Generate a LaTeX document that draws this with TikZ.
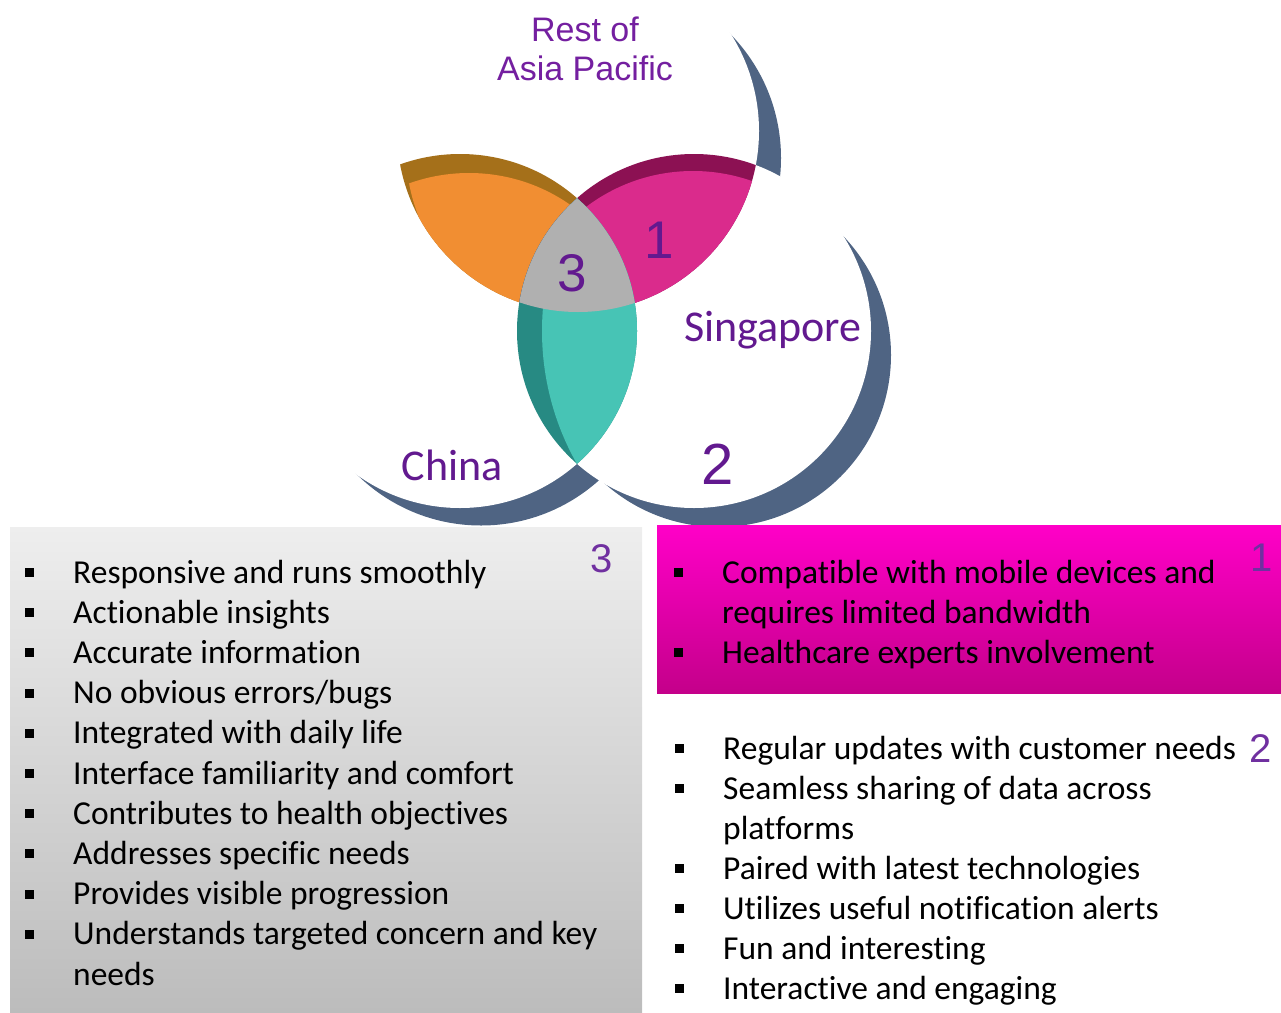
\documentclass[tikz,border=0pt]{standalone}
\usepackage{fontspec}
\setmainfont{Carlito}[Ligatures={NoCommon,NoContextual}]
\newfontfamily\arialfont{Liberation Sans}
\usepackage{xcolor}
\definecolor{shadowblue}{HTML}{4F6483}
\definecolor{orgdark}{HTML}{A5701A}
\definecolor{orglight}{HTML}{F18E32}
\definecolor{magdark}{HTML}{8C1153}
\definecolor{maglight}{HTML}{DA2B8C}
\definecolor{tealdark}{HTML}{278A83}
\definecolor{teallight}{HTML}{47C4B5}
\definecolor{coregray}{HTML}{B0B0B0}
\definecolor{venpurple}{HTML}{62198F}
\definecolor{restpurple}{HTML}{741FA0}
\definecolor{numpurple}{HTML}{7030A0}
\definecolor{graytop}{HTML}{EEEEEE}
\definecolor{graybot}{HTML}{BCBCBC}
\definecolor{pinktop}{HTML}{FF00C8}
\definecolor{pinkbot}{HTML}{C4008A}
\usepackage{tikz}

% the three discs of the diagram
\def\toppath{(578,131) circle[radius=181pt]}
\def\chinapath{(460,331) circle[radius=177pt]}
\def\singpath{(694,331) circle[radius=177pt]}
\newcommand{\bul}{\llap{\raisebox{6pt}{\rule{9pt}{9pt}}\hspace{39pt}}}

\begin{document}
\begin{tikzpicture}[x=1pt, y=-1pt,
  item/.style={inner sep=0pt, anchor=base west, font=\fontsize{33.5}{40}\selectfont},
  region/.style={inner sep=0pt, anchor=base, text=venpurple, font=\fontsize{44}{50}\selectfont},
  count/.style={inner sep=0pt, anchor=base, text=venpurple, font=\arialfont\fontsize{53}{60}\selectfont},
  tag/.style={inner sep=0pt, anchor=base, text=numpurple, font=\arialfont\fontsize{40}{46}\selectfont}]
  \useasboundingbox (0,0) rectangle (1281,1012);

  % crescent shadows, then the white discs
  \fill[shadowblue] (604,158) circle[radius=177pt];
  \fill[shadowblue] (481,349) circle[radius=176.5pt];
  \fill[shadowblue] (719,355) circle[radius=172pt];
  \fill[white] \toppath;
  \fill[white] \chinapath;
  \fill[white] \singpath;

  % orange petal
  \begin{scope}
    \clip \toppath; \clip \chinapath;
    \fill[orgdark] (0,0) rectangle (1281,1012);
    \begin{scope}[shift={(9,19)}]
      \clip \toppath; \clip \chinapath;
      \fill[orglight] (-50,-50) rectangle (1281,1012);
    \end{scope}
  \end{scope}
  % magenta petal
  \begin{scope}
    \clip \toppath; \clip \singpath;
    \fill[magdark] (0,0) rectangle (1281,1012);
    \begin{scope}[shift={(-1,17)}]
      \clip \toppath; \clip \singpath;
      \fill[maglight] (-50,-50) rectangle (1281,1012);
    \end{scope}
  \end{scope}
  % teal petal
  \begin{scope}
    \clip \chinapath; \clip \singpath;
    \fill[tealdark] (0,0) rectangle (1281,1012);
    \clip (812,331) circle[radius=270pt];
    \fill[teallight] (0,0) rectangle (1281,1012);
  \end{scope}
  % centre
  \begin{scope}
    \clip \toppath; \clip \chinapath;
    \fill[coregray] \singpath;
  \end{scope}

  \node[inner sep=0pt, anchor=base, text=restpurple, font=\arialfont\fontsize{34}{40}\selectfont] (rest) at (585,41) {Rest of};
  \node[inner sep=0pt, anchor=base, text=restpurple, font=\arialfont\fontsize{34}{40}\selectfont] (asia) at (585,80) {Asia Pacific};
  \node[region] (sing) at (773,341) {Singapore};
  \node[region] (china) at (452,480) {China};
  \node[count] (c3) at (572,291) {3};
  \node[count] (c1) at (659,258) {1};
  \node[count, font=\arialfont\fontsize{58}{64}\selectfont] (c2) at (718,484) {2};

  % boxes
  \fill[top color=graytop, bottom color=graybot] (10,527) rectangle (642,1012);
  \fill[top color=pinktop, bottom color=pinkbot] (657,525) rectangle (1281,693);

  \foreach \t [count=\i from 0] in {Responsive and runs smoothly, Actionable insights,
      Accurate information, No obvious errors/bugs, Integrated with daily life,
      Interface familiarity and comfort, Contributes to health objectives,
      Addresses specific needs, Provides visible progression,
      Understands targeted concern and key}
    \node[item] (g\i) at (73,583+40.2*\i) {\bul\t};
  \node[item] (g10) at (73,985) {needs};

  \foreach \b/\t [count=\i from 0] in {\bul/Compatible with mobile devices and,
      /requires limited bandwidth, \bul/Healthcare experts involvement}
    \node[item] (m\i) at (722,583+40*\i) {\b\t};

  \foreach \b/\t [count=\i from 0] in {\bul/Regular updates with customer needs,
      \bul/Seamless sharing of data across, /platforms,
      \bul/Paired with latest technologies, \bul/Utilizes useful notification alerts,
      \bul/Fun and interesting, \bul/Interactive and engaging}
    \node[item] (r\i) at (723,759+40*\i) {\b\t};

  \node[tag] (t3) at (602,572) {3};
  \node[tag] (t1) at (1262,571) {1};
  \node[tag] (t2) at (1261,762) {2};
\end{tikzpicture}
\end{document}
